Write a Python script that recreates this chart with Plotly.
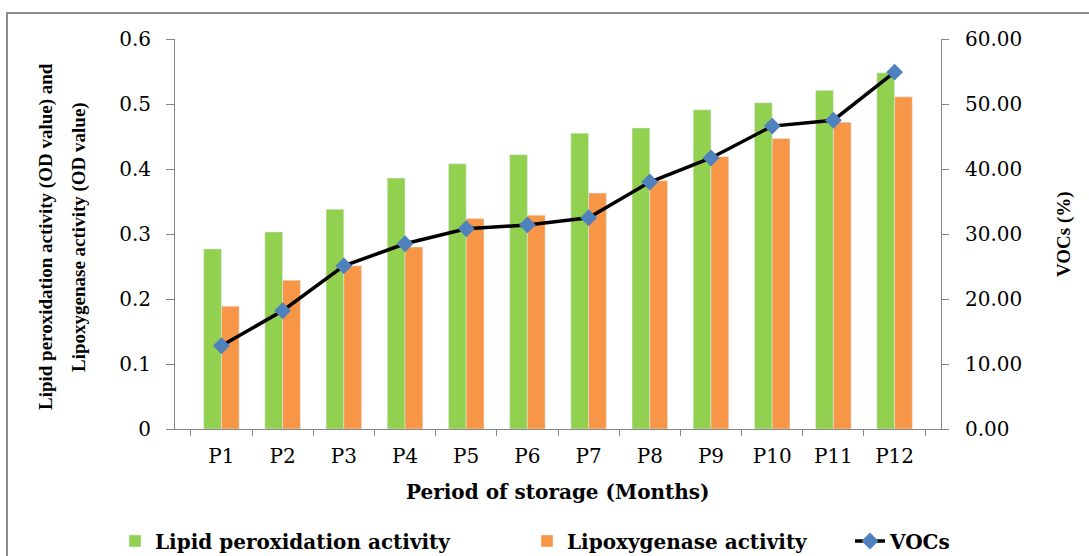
import plotly.graph_objects as go

categories = ["P1", "P2", "P3", "P4", "P5", "P6", "P7", "P8", "P9", "P10", "P11", "P12"]
lipid_peroxidation = [0.277, 0.303, 0.338, 0.386, 0.408, 0.422, 0.455, 0.463, 0.491, 0.502, 0.521, 0.548]
lipoxygenase = [0.189, 0.229, 0.251, 0.280, 0.324, 0.329, 0.363, 0.382, 0.419, 0.447, 0.472, 0.511]
vocs = [12.8, 18.2, 25.1, 28.5, 30.8, 31.4, 32.5, 38.0, 41.7, 46.6, 47.5, 54.9]

left_ticks = [0, 0.1, 0.2, 0.3, 0.4, 0.5, 0.6]
right_ticks = [0, 10, 20, 30, 40, 50, 60]

W, H = 1089, 556
L, R, T, B = 175, 148, 39, 127
PW = W - L - R
PH = H - T - B


def px(x):
    return (x - L) / PW


def py(y):
    return (H - B - y) / PH


TICK_FONT = dict(family="DejaVu Serif", size=20, color="#000000")
BOLD = dict(family="DejaVu Serif", size=20, color="#000000", weight="bold")
TITLE_FONT = dict(family="Liberation Serif", size=19, color="#000000", weight="bold")
AXIS_COLOR = "#868686"

fig = go.Figure()
fig.add_trace(go.Bar(
    x=categories, y=lipid_peroxidation, name="Lipid peroxidation activity",
    marker=dict(color="#92D050"), legend="legend",
))
fig.add_trace(go.Bar(
    x=categories, y=lipoxygenase, name="Lipoxygenase activity",
    marker=dict(color="#F79646"), legend="legend2",
))
fig.add_trace(go.Scatter(
    x=categories, y=vocs, name="VOCs", yaxis="y2", mode="lines+markers",
    line=dict(color="#000000", width=3.5),
    marker=dict(symbol="diamond", size=13, color="#4F81BD"),
    legend="legend3",
))

legend_common = dict(orientation="h", yanchor="middle", xanchor="left",
                     font=BOLD, bgcolor="rgba(0,0,0,0)", itemwidth=30)

fig.update_layout(
    width=W, height=H,
    margin=dict(l=L, r=R, t=T, b=B, autoexpand=False),
    paper_bgcolor="#FFFFFF", plot_bgcolor="#FFFFFF",
    barmode="group", bargap=0.42, bargroupgap=0,
    showlegend=True,
    legend=dict(x=px(115), y=py(541), **legend_common),
    legend2=dict(x=px(527), y=py(541), **legend_common),
    legend3=dict(x=px(850), y=py(541), **legend_common),
    xaxis=dict(
        type="category", showgrid=False, zeroline=False, automargin=False,
        showline=True, linecolor=AXIS_COLOR, linewidth=1,
        ticks="outside", tickson="boundaries", ticklen=6, tickcolor=AXIS_COLOR,
        tickfont=TICK_FONT, ticklabelstandoff=9,
    ),
    yaxis=dict(
        range=[0, 0.6], tickvals=left_ticks, showgrid=False, zeroline=False, automargin=False,
        showline=True, linecolor=AXIS_COLOR, linewidth=1,
        ticks="outside", ticklen=8, tickcolor=AXIS_COLOR,
        tickfont=TICK_FONT, ticklabelstandoff=11,
    ),
    yaxis2=dict(
        range=[0, 60], tickvals=right_ticks, tickformat=".2f", automargin=False,
        overlaying="y", side="right", showgrid=False, zeroline=False,
        showline=True, linecolor=AXIS_COLOR, linewidth=1,
        ticks="outside", ticklen=7, tickcolor=AXIS_COLOR,
        tickfont=TICK_FONT, ticklabelstandoff=12,
    ),
    annotations=[
        dict(text="Lipid peroxidation activity (OD value) and", x=px(46), y=py(237),
             xref="paper", yref="paper", textangle=-90, showarrow=False,
             xanchor="center", yanchor="middle", font=TITLE_FONT),
        dict(text="Lipoxygenase activity (OD value)", x=px(79), y=py(237),
             xref="paper", yref="paper", textangle=-90, showarrow=False,
             xanchor="center", yanchor="middle", font=TITLE_FONT),
        dict(text="VOCs (%)", x=px(1064), y=py(234),
             xref="paper", yref="paper", textangle=-90, showarrow=False,
             xanchor="center", yanchor="middle", font=TITLE_FONT),
        dict(text="Period of storage (Months)", x=px(558), y=py(492),
             xref="paper", yref="paper", showarrow=False,
             xanchor="center", yanchor="middle", font=BOLD),
    ],
    shapes=[
        dict(type="rect", xref="paper", yref="paper",
             x0=px(7), x1=px(1110), y0=py(13), y1=py(580),
             line=dict(color="#8C8C8C", width=2), fillcolor="rgba(0,0,0,0)", layer="below"),
    ],
)

fig.write_html(
    "out.html",
    config={"displayModeBar": False},
    post_script="document.body.style.margin='0';document.body.style.overflow='hidden';",
)
